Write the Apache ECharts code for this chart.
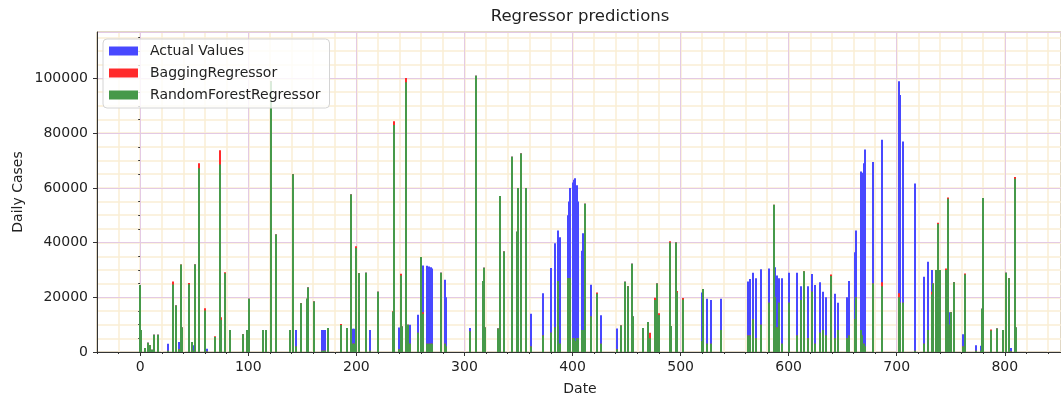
<!DOCTYPE html>
<html>
<head>
<meta charset="utf-8">
<script src="https://cdn.jsdelivr.net/npm/echarts@6/dist/echarts.min.js"></script>
<style>
html,body{margin:0;padding:0;background:#fff;}
#chart{width:1061px;height:401px;}
</style>
</head>
<body>
<div id="chart"></div>
<script>
// x positions (test-set day index)
const dates = [0,1,4,7,9,11,13,16,26,30,33,36,38,39,45,48,50,51,54,60,62,69,74,75,78,83,95,99,101,114,116,121,126,139,141,144,149,154,155,161,168,170,171,174,186,191,195,197,198,200,202,209,213,220,234,235,239,241,242,246,248,250,257,260,262,265,267,269,270,278,282,283,305,311,317,318,319,331,333,337,344,349,350,352,357,362,373,380,384,387,388,396,397,398,400,401,402,404,405,409,410,412,417,423,426,441,445,449,451,455,456,465,470,472,476,478,480,490,491,496,497,502,520,521,524,528,537,562,564,567,570,574,582,586,587,589,591,594,600,608,611,614,618,622,624,629,632,635,639,643,646,654,656,661,662,667,668,670,671,678,686,702,703,706,717,725,729,733,734,736,738,740,746,747,749,750,753,761,763,773,778,779,780,787,793,798,801,804,806,809,810];
const actualValues = [24000,8000,1500,3400,2500,800,6300,6300,3000,25000,17000,3700,31500,9000,24500,2500,2500,32000,67000,15000,1200,5500,68000,5000,28500,8000,6500,8000,19500,8000,8000,99000,43000,8000,65000,8000,17800,19500,23600,18500,8000,8000,8000,8800,9800,8800,57600,8500,8500,38000,28800,29000,8000,22000,14700,83000,9000,28000,9300,98600,10000,10000,13600,34700,31600,31500,31300,31000,30500,29000,26400,20000,8800,101000,26000,30800,9000,8600,57000,36700,71400,44000,60000,72600,60000,14000,21500,30700,39800,44400,42000,50000,55000,60000,62000,63000,63500,61000,55000,37000,43400,54200,24600,21000,13400,8600,9700,25700,24000,32300,13000,8800,11000,5000,19000,25000,13500,39500,9500,40000,21500,19000,21800,23000,19500,19000,19500,25800,26700,29000,27000,30300,30500,31000,31000,28000,27000,27000,29000,29000,24000,20000,24000,28500,24500,25500,22000,20000,27500,21300,18000,20000,26000,36500,44400,66000,65500,69000,74000,69500,77600,99000,94000,77000,61600,27500,33000,30000,25000,30000,46000,30000,29500,56000,14500,14500,25500,6500,28000,2500,2300,15800,56300,7700,8600,8000,29000,27000,1500,63000,9000];
const baggingPred  = [24500,8000,1500,3400,2500,800,6300,6300,500,25800,17000,1000,32000,9000,25200,3700,500,32000,69000,16000,200,5800,73800,12700,29200,8000,6500,8000,19500,8000,8000,99000,43000,8000,65000,2000,17800,19500,23600,18500,500,500,500,8800,10200,8800,57600,3000,3000,38700,28800,29000,500,22000,14900,84400,1000,28600,9300,100200,10000,3000,7000,34700,14500,3000,3000,3000,3000,29000,3000,2000,7500,101000,26000,30800,9000,8600,57000,36700,71400,44000,60000,72600,60000,2000,6000,7000,9000,26000,3000,27000,27000,27000,5000,5000,4000,5000,5000,8000,8000,54200,13000,21800,3000,1000,9700,25700,24000,32300,13000,8800,11000,7000,19800,25000,14200,40500,9500,40000,22300,19700,4000,23000,3000,3000,8000,6000,6000,12000,5000,10000,18000,53800,20000,9000,18000,3000,18000,6000,19000,29500,5000,22000,3000,7000,8000,6000,28300,5000,8000,5000,6000,12000,20000,8000,6000,3000,2000,25000,25500,21500,18000,18000,500,3000,8000,22000,25000,30000,47300,30000,30500,56500,10000,14500,25500,2000,28700,500,500,15800,56300,8200,8600,8000,29000,27000,300,64000,9000];
const rfPred       = [24500,8000,1500,3400,2500,800,6300,6300,500,24700,17000,1000,32000,9000,24800,3700,500,32000,67200,15200,200,5500,68600,11700,28800,8000,6500,8000,19500,8000,8000,99000,43000,8000,65000,2000,17800,19500,23600,18500,500,500,500,8800,9900,8800,57600,3000,3000,38000,28800,29000,500,22000,14700,83000,1000,28000,9300,98600,10000,3000,7000,34700,14000,3000,3000,3000,3000,29000,3000,2000,7500,101000,26000,30800,9000,8600,57000,36700,71400,44000,60000,72600,60000,2000,6000,7000,9000,26000,3000,27000,27000,27000,5000,5000,4000,5000,5000,8000,8000,54200,13000,21300,3000,1000,9700,25700,24000,32300,13000,8800,11000,5000,19000,25000,13500,40000,9500,40000,21800,19200,4000,23000,3000,3000,8000,6000,6000,12000,5000,10000,18000,53800,20000,9000,18000,3000,18000,6000,19000,29500,5000,22000,3000,7000,8000,6000,27800,5000,8000,5000,6000,12000,20000,8000,6000,3000,2000,25000,24000,20000,18000,18000,500,3000,8000,21000,25000,30000,46800,30000,30000,56000,10000,14500,25500,2000,28300,500,500,15800,56300,7900,8600,8000,29000,27000,300,63300,9000];

const xTickStep = 100, yTickStep = 20000;

const chart = echarts.init(document.getElementById('chart'), null, {renderer: 'canvas'});
const font = 'DejaVu Sans';
const axisColor = '#333';
const majorGrid = '#e4cae4';
const minorGrid = '#faeed4';

function pairs(vals){ return dates.map((d,i)=>[d, vals[i]]); }

// thin bars, snapped to whole pixels so overlapping bars cover each other cleanly
const barPx = 2;
function renderBar(params, api) {
  const x = api.value(0), y = api.value(1);
  const top = api.coord([x, y]);
  const base = api.coord([x, 0]);
  const left = Math.round(top[0] - barPx / 2);
  return {
    type: 'rect',
    shape: {x: left, y: top[1], width: barPx, height: base[1] - top[1]},
    style: api.style()
  };
}
function barSeries(name, vals, color) {
  return {name, type: 'custom', xAxisIndex: 1, yAxisIndex: 1, renderItem: renderBar, clip: true,
          encode: {x: 0, y: 1}, itemStyle: {color}, data: pairs(vals)};
}

chart.setOption({
  animation: false,
  backgroundColor: '#fff',
  grid: {left: 97, top: 32, width: 967, height: 320, show: true, borderColor: axisColor, borderWidth: 1, backgroundColor: 'transparent'},
  graphic: [
    {type: 'text', x: 580, y: 17, z: 100, style: {text: 'Regressor predictions', font: '16.5px "DejaVu Sans"', fill: '#222', align: 'center', verticalAlign: 'middle'}},
    {type: 'text', x: 580, y: 389, z: 100, style: {text: 'Date', font: '14px "DejaVu Sans"', fill: '#222', align: 'center', verticalAlign: 'middle'}},
    {type: 'text', x: 18, y: 192, rotation: Math.PI/2, z: 100, style: {text: 'Daily Cases', font: '14px "DejaVu Sans"', fill: '#222', align: 'center', verticalAlign: 'middle'}}
  ],
  legend: {
    orient: 'vertical', left: 103, top: 39,
    data: ['Actual Values', 'BaggingRegressor', 'RandomForestRegressor'],
    icon: 'rect', itemWidth: 29, itemHeight: 9, itemGap: 8,
    padding: [5, 9, 6, 6],
    backgroundColor: 'rgba(255,255,255,0.8)', borderColor: '#d4d4d4', borderWidth: 1, borderRadius: 4,
    itemStyle: {opacity: 1},
    textStyle: {fontFamily: font, fontSize: 14, color: '#222', lineHeight: 14, padding: [0, 0, 0, 7]}
  },
  xAxis: [
    {type: 'value', gridIndex: 0, position: 'bottom', min: -40, max: 852, interval: 20, z: 0,
     axisLine: {show: false}, axisLabel: {show: false},
     axisTick: {show: true, length: 2, lineStyle: {color: axisColor}},
     splitLine: {show: true, lineStyle: {color: minorGrid, width: 1.5}}},
    {type: 'value', gridIndex: 0, position: 'bottom', min: -40, max: 852, splitNumber: 9, z: 1,
     axisLine: {show: true, onZero: false, lineStyle: {color: axisColor}},
     axisTick: {show: true, length: 4, lineStyle: {color: axisColor}},
     axisLabel: {showMinLabel: false, showMaxLabel: false, fontFamily: font, fontSize: 14, color: '#222', margin: 8,
                 formatter: v => String(v)},
     splitLine: {show: true, lineStyle: {color: majorGrid, width: 1}}}
  ],
  yAxis: [
    {type: 'value', gridIndex: 0, position: 'left', min: 0, max: 117000, interval: 5000, z: 0,
     axisLine: {show: false}, axisLabel: {show: false},
     axisTick: {show: true, length: 2, lineStyle: {color: axisColor}},
     splitLine: {show: true, lineStyle: {color: minorGrid, width: 1.5}}},
    {type: 'value', gridIndex: 0, position: 'left', min: 0, max: 117000, interval: yTickStep, z: 1,
     axisLine: {show: true, onZero: false, lineStyle: {color: axisColor}},
     axisTick: {show: true, length: 4, lineStyle: {color: axisColor}},
     axisLabel: {showMaxLabel: false, fontFamily: font, fontSize: 14, color: '#222', margin: 9,
                 formatter: v => String(v)},
     splitLine: {show: true, lineStyle: {color: majorGrid, width: 1}}}
  ],
  series: [
    barSeries('Actual Values', actualValues, '#4848ff'),
    barSeries('BaggingRegressor', baggingPred, '#ff2a2a'),
    barSeries('RandomForestRegressor', rfPred, '#46994a')
  ]
});
</script>
</body>
</html>
